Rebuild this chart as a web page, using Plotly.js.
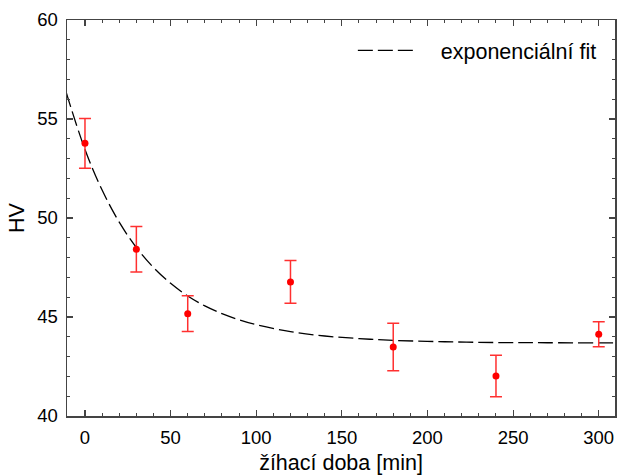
<!DOCTYPE html>
<html>
<head>
<meta charset="utf-8">
<script src="https://cdn.plot.ly/plotly-3.0.1.min.js"></script>
<style>html,body{margin:0;padding:0;background:#fff;}#chart{width:617px;height:476px;}</style>
</head>
<body>
<div id="chart"></div>
<script>
// measured data
const times = [0, 30, 60, 120, 180, 240, 300];
const hv = [53.77, 48.42, 45.17, 46.77, 43.48, 42.02, 44.13];
const hvErr = [1.26, 1.15, 0.9, 1.08, 1.2, 1.05, 0.63];

// exponential fit curve
const fitX = [-11, 0, 10, 20, 30, 40, 50, 60, 70, 80, 90, 100, 120, 140, 160, 180, 210, 240, 270, 310];
const fitY = [56.35, 53.46, 51.41, 49.79, 48.51, 47.50, 46.70, 46.06, 45.56, 45.17, 44.86, 44.61, 44.26, 44.04, 43.91, 43.82, 43.75, 43.71, 43.70, 43.69];

const xTicks = [0, 50, 100, 150, 200, 250, 300];
const yTicks = [40, 45, 50, 55, 60];

const font = "Liberation Sans, Arial, sans-serif";
const axisCol = "#444";

const traces = [
  {
    x: fitX, y: fitY, mode: "lines", type: "scatter",
    name: "\u00a0\u00a0\u00a0exponenciální fit",
    line: {color: "#000", width: 1.3, dash: "15px,5px", shape: "spline"},
    hoverinfo: "skip"
  },
  {
    x: times, y: hv, mode: "markers", type: "scatter",
    showlegend: false,
    marker: {color: "#ff0000", size: 7},
    error_y: {type: "data", array: hvErr, visible: true, color: "#ff3030", thickness: 1.5, width: 6}
  }
];

const axBase = {
  showgrid: false, zeroline: false,
  showline: true, linecolor: axisCol, linewidth: 1.5, mirror: "allticks",
  ticks: "inside", ticklen: 6, tickwidth: 1.2, tickcolor: axisCol,
  tickfont: {family: font, size: 18.5, color: "#000"},
  minor: {ticks: "inside", ticklen: 3, tickwidth: 1, tickcolor: axisCol}
};

const layout = {
  width: 617, height: 476,
  margin: {l: 67, r: 2, t: 20, b: 60},
  paper_bgcolor: "#fff", plot_bgcolor: "#fff",
  font: {family: font, color: "#000"},
  xaxis: Object.assign({}, axBase, {
    range: [-10.5, 309.5], tickmode: "array", tickvals: xTicks,
    minor: Object.assign({}, axBase.minor, {dtick: 10, tick0: 0}),
    ticklabelstandoff: 4,
    title: {text: "žíhací doba [min]", font: {family: font, size: 21.5}, standoff: 8}
  }),
  yaxis: Object.assign({}, axBase, {
    range: [40, 60], tickmode: "array", tickvals: yTicks,
    minor: Object.assign({}, axBase.minor, {dtick: 1, tick0: 40}),
    ticklabelstandoff: 4,
    title: {text: "HV", font: {family: font, size: 21.5}, standoff: 6}
  }),
  showlegend: true,
  legend: {
    x: 0.976, y: 0.975, xanchor: "right", yanchor: "top",
    bgcolor: "rgba(0,0,0,0)", borderwidth: 0,
    font: {family: font, size: 21.5, color: "#000"},
    itemwidth: 60
  }
};

Plotly.newPlot("chart", traces, layout, {displayModeBar: false, staticPlot: true});
</script>
</body>
</html>
